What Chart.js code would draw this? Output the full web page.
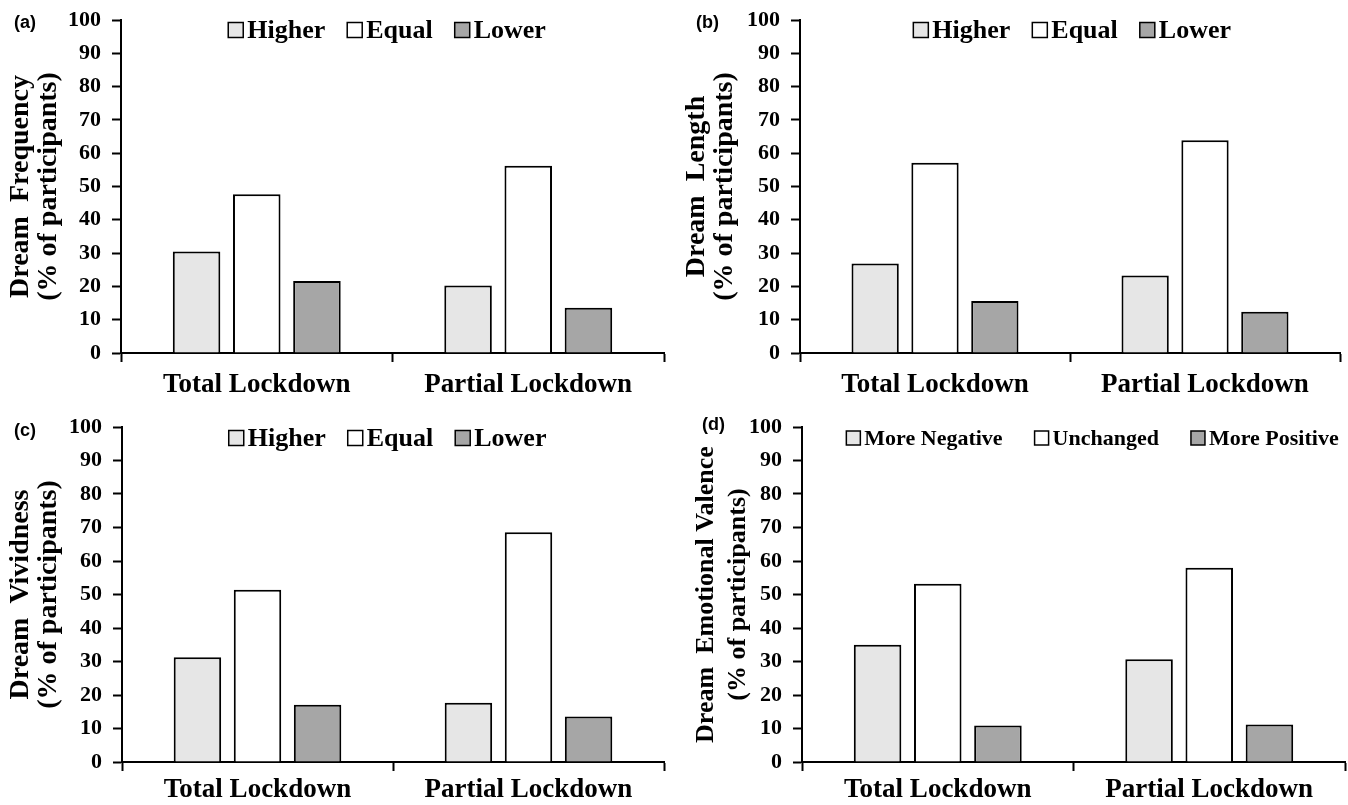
<!DOCTYPE html>
<html>
<head>
<meta charset="utf-8">
<script src="https://cdn.jsdelivr.net/npm/chart.js@4"></script>
<style>
  body { margin: 0; background: #fff; }
  .panel { position: absolute; }
</style>
</head>
<body>
<div class="panel" style="left:0;top:0"><canvas id="chartA" width="674" height="400"></canvas></div>
<div class="panel" style="left:674px;top:0"><canvas id="chartB" width="674" height="400"></canvas></div>
<div class="panel" style="left:0;top:400px"><canvas id="chartC" width="674" height="405"></canvas></div>
<div class="panel" style="left:674px;top:400px"><canvas id="chartD" width="674" height="405"></canvas></div>
<script>
// categories and legend labels
const categories = ["Total Lockdown", "Partial Lockdown"];
const changeLabels = ["Higher", "Equal", "Lower"];
const valenceLabels = ["More Negative", "Unchanged", "More Positive"];

// values (% of participants)
const freqHigher = [30.5, 20.3];
const freqEqual = [47.7, 56.2];
const freqLower = [21.6, 13.6];

const lengthHigher = [26.9, 23.3];
const lengthEqual = [57.1, 63.9];
const lengthLower = [15.6, 12.4];

const vividHigher = [31.3, 17.7];
const vividEqual = [51.4, 68.6];
const vividLower = [17.1, 13.6];

const valenceNegative = [35.0, 30.7];
const valenceUnchanged = [53.2, 58.0];
const valencePositive = [10.9, 11.2];

// y axis range
const yMin = 0, yMax = 100, yStep = 10;

const barColors = ["#e6e6e6", "#ffffff", "#a6a6a6"];
const serif = "'Liberation Serif', 'Times New Roman', serif";

// draws the panel letter and the legend inside the plot
const overlayPlugin = {
  id: "overlay",
  afterDraw(chart) {
    const o = chart.options.plugins.overlay;
    const ctx = chart.ctx;
    const area = chart.chartArea;
    ctx.save();
    ctx.fillStyle = "#000";
    ctx.font = "bold 18px 'Liberation Sans', Arial, sans-serif";
    ctx.textBaseline = "middle";
    ctx.textAlign = "left";
    ctx.fillText(o.letter, o.letterX, o.letterY);

    // legend
    ctx.font = "bold " + o.legendSize + "px " + serif;
    const box = o.boxSize;
    const items = chart.data.datasets.map(ds => ({
      label: ds.label, color: ds.backgroundColor,
      w: box + 4 + ctx.measureText(ds.label).width
    }));
    const total = items.reduce((s, it) => s + it.w, 0) + o.legendGap * (items.length - 1);
    let x = area.left + area.width * o.legendCenter - total / 2;
    const y = o.legendY;
    items.forEach(it => {
      ctx.fillStyle = it.color;
      ctx.fillRect(x, y - box / 2, box, box);
      ctx.lineWidth = 1.5;
      ctx.strokeStyle = "#000";
      ctx.strokeRect(x, y - box / 2, box, box);
      ctx.fillStyle = "#000";
      ctx.fillText(it.label, x + box + 4, y + 1);
      x += it.w + o.legendGap;
    });
    ctx.restore();
  }
};

function makeChart(id, labels, series, yTitle, opts) {
  const ctx = document.getElementById(id).getContext("2d");
  return new Chart(ctx, {
    type: "bar",
    data: {
      labels: categories,
      datasets: series.map((vals, i) => ({
        label: labels[i],
        data: vals,
        backgroundColor: barColors[i],
        borderColor: "#000",
        borderWidth: 2,
        categoryPercentage: 0.665,
        barPercentage: 0.79
      }))
    },
    options: {
      responsive: false,
      animation: false,
      layout: { padding: { top: opts.top, right: opts.right, left: 0, bottom: 0 } },
      plugins: {
        legend: { display: false },
        tooltip: { enabled: false },
        overlay: opts
      },
      scales: {
        x: {
          border: { color: "#000", width: 2 },
          grid: { drawOnChartArea: false, drawTicks: true, tickLength: 9, tickColor: "#000", tickWidth: 2 },
          ticks: { color: "#000", padding: opts.xPad, font: { family: serif, size: 27, weight: "bold" } },
          afterFit(scale) { scale.height = opts.xHeight; }
        },
        y: {
          min: yMin, max: yMax,
          border: { color: "#000", width: 2 },
          grid: { drawOnChartArea: false, drawTicks: true, tickLength: 9, tickColor: "#000", tickWidth: 2 },
          ticks: { stepSize: yStep, color: "#000", padding: 11, font: { family: serif, size: 22, weight: "bold", lineHeight: 0.8 } },
          title: {
            display: true, text: yTitle, color: "#000", padding: { top: opts.titlePad, bottom: 0 },
            font: { family: serif, size: opts.titleSize, weight: "bold", lineHeight: opts.titleLine }
          },
          afterFit(scale) { scale.width = opts.yWidth; }
        }
      }
    },
    plugins: [overlayPlugin]
  });
}

makeChart("chartA", changeLabels, [freqHigher, freqEqual, freqLower],
  ["Dream  Frequency", "(% of participants)"],
  { letter: "(a)", letterX: 14, letterY: 23, top: 20, right: 10, yWidth: 121, xHeight: 47, xPad: 7,
    titleSize: 28, titleLine: 1.0, titlePad: 7,
    legendSize: 26, boxSize: 15, legendGap: 22, legendCenter: 0.49, legendY: 30 });

makeChart("chartB", changeLabels, [lengthHigher, lengthEqual, lengthLower],
  ["Dream  Length", "(% of participants)"],
  { letter: "(b)", letterX: 22, letterY: 23, top: 20, right: 8, yWidth: 126, xHeight: 47, xPad: 7,
    titleSize: 28, titleLine: 1.0, titlePad: 9,
    legendSize: 26, boxSize: 15, legendGap: 22, legendCenter: 0.504, legendY: 30 });

makeChart("chartC", changeLabels, [vividHigher, vividEqual, vividLower],
  ["Dream  Vividness", "(% of participants)"],
  { letter: "(c)", letterX: 14, letterY: 31, top: 27, right: 10, yWidth: 122, xHeight: 43, xPad: 3,
    titleSize: 28, titleLine: 1.0, titlePad: 7,
    legendSize: 26, boxSize: 15, legendGap: 22, legendCenter: 0.49, legendY: 38 });

makeChart("chartD", valenceLabels, [valenceNegative, valenceUnchanged, valencePositive],
  ["Dream  Emotional Valence", "(% of participants)"],
  { letter: "(d)", letterX: 28, letterY: 25, top: 27, right: 3, yWidth: 128, xHeight: 43, xPad: 3,
    titleSize: 26, titleLine: 1.23, titlePad: 16,
    legendSize: 22, boxSize: 14, legendGap: 32, legendCenter: 0.535, legendY: 38 });
</script>
</body>
</html>
